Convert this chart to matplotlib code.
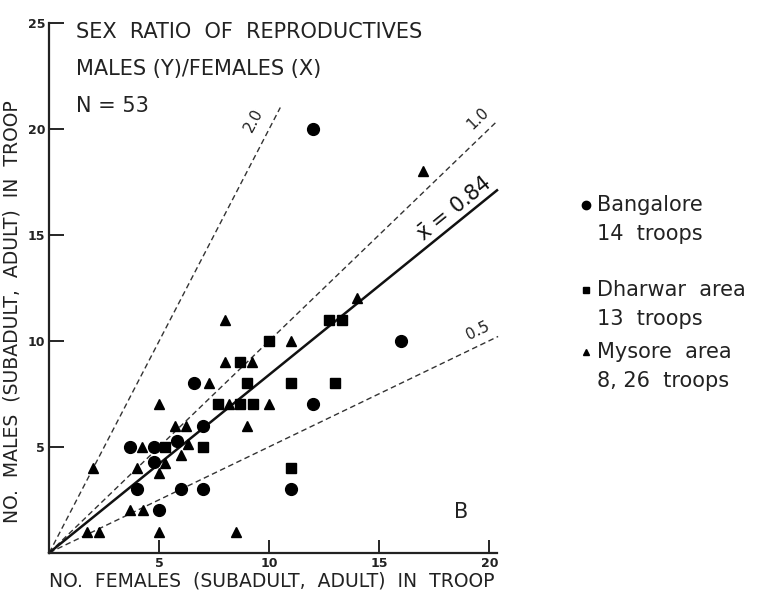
import matplotlib
matplotlib.use("Agg")
import matplotlib.pyplot as plt
import numpy as np

# values
bangalore_x = [12, 16, 12, 11, 6.6, 7, 7, 6, 4, 5, 3.65, 4.75, 5.8, 4.75]
bangalore_y = [20, 10, 7, 3, 8, 6, 3, 3, 3, 2, 5, 5, 5.25, 4.3]

dharwar_x = [12.7, 13.3, 10, 8.65, 9, 11, 13, 7.65, 8.65, 9.25, 7, 5.25, 11]
dharwar_y = [11, 11, 10, 9, 8, 8, 8, 7, 7, 7, 5, 5, 4]

mysore_x = [17, 14, 8, 11, 8, 9.2, 7.25, 8.15, 10, 5, 9, 5.7, 6.2, 6.3,
            4.2, 6, 5.25, 4, 2, 5, 3.65, 4.25, 1.7, 2.25, 5, 8.5]
mysore_y = [18, 12, 11, 10, 9, 9, 8, 7, 7, 7, 6, 6, 6, 5.15,
            5, 4.6, 4.25, 4, 4, 3.75, 2, 2, 1, 1, 1, 1]

ratios = [2.0, 1.0, 0.5]
ratio_labels = ["2.0", "1.0", "0.5"]
mean_ratio = 0.84

x_ticks = [5, 10, 15, 20]
y_ticks = [5, 10, 15, 20, 25]

legend_names = ["Bangalore", "Dharwar  area", "Mysore  area"]
legend_counts = ["14  troops", "13  troops", "8, 26  troops"]

W, H = 784, 600
fig = plt.figure(figsize=(W / 100, H / 100), dpi=100)
ax = fig.add_axes([49.3 / W, 1 - 552.7 / H, (497 - 49.3) / W, 530 / H])
ax.set_xlim(0, 20.35)
ax.set_ylim(0, 25)

for s in ["top", "right"]:
    ax.spines[s].set_visible(False)
for s in ["left", "bottom"]:
    ax.spines[s].set_linewidth(1.6)
    ax.spines[s].set_color("#222222")

# ratio lines
ends = {2.0: 10.5, 1.0: 20.3, 0.5: 20.4}
for r in ratios:
    xs = np.array([0, ends[r]])
    ax.plot(xs, r * xs, color="#333333", lw=1.0, dashes=(4, 2.5), clip_on=False)
xs = np.array([0, 20.35])
ax.plot(xs, mean_ratio * xs, color="#111111", lw=1.8, clip_on=False)

# labels along the lines
ax.text(9.3, 20.4, ratio_labels[0], rotation=62, fontsize=11, color="#222222",
        ha="center", va="center")
ax.text(19.5, 20.5, ratio_labels[1], rotation=44, fontsize=11, color="#222222",
        ha="center", va="center")
ax.text(19.5, 10.45, ratio_labels[2], rotation=26, fontsize=11, color="#222222",
        ha="center", va="center")
ax.text(18.45, 16.2, r"$\bar{\mathrm{x}}$ = " + str(mean_ratio), rotation=39,
        fontsize=15, color="#111111", ha="center", va="center")

# points
ax.plot(bangalore_x, bangalore_y, "o", color="black", ms=8.5, clip_on=False)
ax.plot(dharwar_x, dharwar_y, "s", color="black", ms=7, clip_on=False)
ax.plot(mysore_x, mysore_y, "^", color="black", ms=7.5, clip_on=False)

ax.set_xticks(x_ticks)
ax.set_yticks(y_ticks)
ax.tick_params(axis="x", direction="in", length=9.5, width=1.2, pad=3)
ax.tick_params(axis="y", direction="in", length=11, width=1.2, pad=3)
for lbl in ax.get_xticklabels() + ax.get_yticklabels():
    lbl.set_fontweight("bold")
    lbl.set_fontsize(9)
    lbl.set_color("#222222")

ax.text(18.7, 1.9, "B", fontsize=15, color="#222222", ha="center", va="center")

# title block
title_lines = ["SEX  RATIO  OF  REPRODUCTIVES", "MALES (Y)/FEMALES (X)", "N = 53"]
for i, t in enumerate(title_lines):
    fig.text(76 / W, 1 - (32 + 37 * i) / H, t, fontsize=15, color="#222222",
             ha="left", va="center")

# axis labels
fig.text(272 / W, 1 - 581 / H, "NO.  FEMALES  (SUBADULT,  ADULT)  IN  TROOP",
         fontsize=13.5, color="#222222", ha="center", va="center")
fig.text(12 / W, 1 - 312 / H, "NO.  MALES  (SUBADULT,  ADULT)  IN  TROOP",
         fontsize=13.5, color="#222222", ha="center", va="center", rotation=90)

# legend
legend_marks = ["o", "s", "^"]
legend_y = [205, 290, 352]
for m, name, cnt, yy in zip(legend_marks, legend_names, legend_counts, legend_y):
    fig.lines.append(plt.Line2D([586 / W], [1 - yy / H], marker=m, color="black",
                                ms=6 if m == "o" else 5, transform=fig.transFigure))
    fig.text(597 / W, 1 - yy / H, name, fontsize=15, color="#222222",
             ha="left", va="center")
    fig.text(597 / W, 1 - (yy + 29) / H, cnt, fontsize=15, color="#222222",
             ha="left", va="center")

fig.savefig("out.png", dpi=100)
